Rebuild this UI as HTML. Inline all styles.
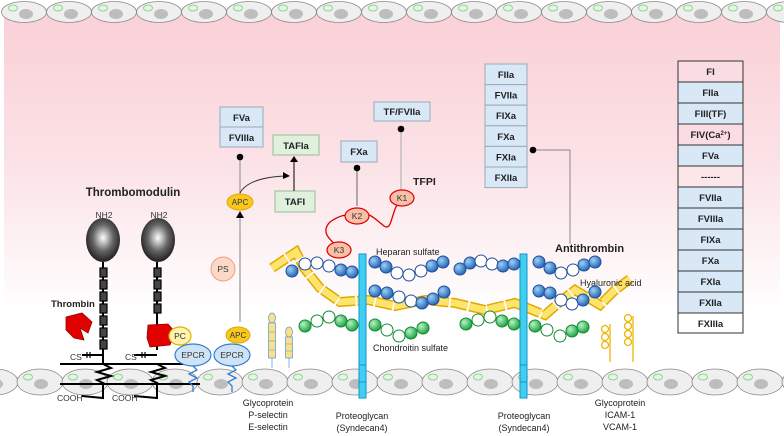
<!DOCTYPE html>
<html><head><meta charset="utf-8"><style>
html,body{margin:0;padding:0;background:#fff}
svg{display:block;font-family:"Liberation Sans",Arial,sans-serif}
.b{font-weight:bold}
</style></head><body>
<svg width="784" height="436" viewBox="0 0 784 436" xmlns="http://www.w3.org/2000/svg">
<defs>
<linearGradient id="bg" x1="0" y1="0" x2="0" y2="1">
<stop offset="0" stop-color="#fad0d7"/><stop offset="0.4" stop-color="#fbe2e6"/><stop offset="0.8" stop-color="#ffffff"/><stop offset="1" stop-color="#ffffff"/>
</linearGradient>
<radialGradient id="ball" cx="0.5" cy="0.45" r="0.6"><stop offset="0" stop-color="#fff"/><stop offset="0.5" stop-color="#666"/><stop offset="1" stop-color="#111"/></radialGradient>
<radialGradient id="bb" cx="0.35" cy="0.35" r="0.7"><stop offset="0" stop-color="#9fd0f5"/><stop offset="1" stop-color="#1f63b5"/></radialGradient>
<radialGradient id="gb" cx="0.35" cy="0.35" r="0.7"><stop offset="0" stop-color="#bdf0c8"/><stop offset="1" stop-color="#15a33d"/></radialGradient>
<g id="cell"><ellipse cx="0" cy="0" rx="22.5" ry="10.5" fill="#efefef" stroke="#8a8a8a" stroke-width="0.8"/><ellipse cx="2" cy="2" rx="7" ry="5" fill="#bdbdbd"/><ellipse cx="-11" cy="-4" rx="4.5" ry="3" fill="#e3f5e3" stroke="#7ccf7c" stroke-width="0.8"/></g>
<g id="cellb"><ellipse cx="0" cy="0" rx="23" ry="13" fill="#efefef" stroke="#8a8a8a" stroke-width="0.8"/><ellipse cx="1" cy="2" rx="7" ry="5" fill="#bdbdbd"/><ellipse cx="-12" cy="-5" rx="4.5" ry="3" fill="#e3f5e3" stroke="#7ccf7c" stroke-width="0.8"/></g>
<g id="B"><circle r="6" fill="url(#bb)" stroke="#1f4fa0" stroke-width="1"/></g>
<g id="W"><circle r="6" fill="#fff" stroke="#1f4fa0" stroke-width="1"/></g>
<g id="G"><circle r="6" fill="url(#gb)" stroke="#128a33" stroke-width="1"/></g>
<g id="GW"><circle r="6" fill="#fff" stroke="#128a33" stroke-width="1"/></g>
</defs>
<rect x="4" y="10" width="776" height="380" fill="url(#bg)"/>
<g>
<use href="#cell" x="24" y="12"/><use href="#cell" x="69" y="12"/><use href="#cell" x="114" y="12"/><use href="#cell" x="159" y="12"/><use href="#cell" x="204" y="12"/><use href="#cell" x="249" y="12"/><use href="#cell" x="294" y="12"/><use href="#cell" x="339" y="12"/><use href="#cell" x="384" y="12"/><use href="#cell" x="429" y="12"/><use href="#cell" x="474" y="12"/><use href="#cell" x="519" y="12"/><use href="#cell" x="564" y="12"/><use href="#cell" x="609" y="12"/><use href="#cell" x="654" y="12"/><use href="#cell" x="699" y="12"/><use href="#cell" x="744" y="12"/><use href="#cell" x="789" y="12"/>
</g>
<g>
<use href="#cellb" x="-5" y="382"/><use href="#cellb" x="40" y="382"/><use href="#cellb" x="85" y="382"/><use href="#cellb" x="130" y="382"/><use href="#cellb" x="175" y="382"/><use href="#cellb" x="220" y="382"/><use href="#cellb" x="265" y="382"/><use href="#cellb" x="310" y="382"/><use href="#cellb" x="355" y="382"/><use href="#cellb" x="400" y="382"/><use href="#cellb" x="445" y="382"/><use href="#cellb" x="490" y="382"/><use href="#cellb" x="535" y="382"/><use href="#cellb" x="580" y="382"/><use href="#cellb" x="625" y="382"/><use href="#cellb" x="670" y="382"/><use href="#cellb" x="715" y="382"/><use href="#cellb" x="760" y="382"/><use href="#cellb" x="805" y="382"/>
</g>

<text x="133" y="196" font-size="11.5" class="b" text-anchor="middle" fill="#222">Thrombomodulin</text>
<text x="104" y="218" font-size="8.5" text-anchor="middle" fill="#333">NH2</text>
<text x="159" y="218" font-size="8.5" text-anchor="middle" fill="#333">NH2</text>
<g stroke="#000" stroke-width="2" fill="none">
<line x1="60" y1="364" x2="200" y2="364"/><line x1="60" y1="384" x2="200" y2="384"/>
<line x1="103" y1="262" x2="103" y2="364"/><line x1="157" y1="262" x2="157" y2="350"/>
<polyline points="103,364 111,368 97,372 111,376 97,380 105,384 103,384 103,398 82,396"/>
<polyline points="157,364 165,368 151,372 165,376 151,380 159,384 157,384 157,398 134,396"/>
<line x1="82" y1="355" x2="103" y2="355"/><line x1="134" y1="355" x2="157" y2="355"/>
</g>
<g stroke="#000" stroke-width="1.2"><line x1="87" y1="352" x2="87" y2="358"/><line x1="90" y1="352" x2="90" y2="358"/><line x1="142" y1="352" x2="142" y2="358"/><line x1="145" y1="352" x2="145" y2="358"/></g>
<text x="70" y="360" font-size="8.5" fill="#333">CS</text><text x="125" y="360" font-size="8.5" fill="#333">CS</text>
<text x="57" y="401" font-size="8.5" fill="#333">COOH</text><text x="112" y="401" font-size="8.5" fill="#333">COOH</text>
<ellipse cx="103" cy="240" rx="17" ry="22" fill="url(#ball)"/><ellipse cx="158" cy="240" rx="17" ry="22" fill="url(#ball)"/>
<g fill="#444" stroke="#000" stroke-width="1.2">
<rect x="100" y="268" width="7" height="9"/><rect x="100" y="280" width="7" height="9"/><rect x="100" y="292" width="7" height="9"/><rect x="100" y="304" width="7" height="9"/><rect x="100" y="316" width="7" height="9"/><rect x="100" y="328" width="7" height="9"/><rect x="100" y="340" width="7" height="9"/>
<rect x="154" y="268" width="7" height="9"/><rect x="154" y="280" width="7" height="9"/><rect x="154" y="292" width="7" height="9"/><rect x="154" y="304" width="7" height="9"/>
</g>
<text x="51" y="307" font-size="9.5" class="b" fill="#222">Thrombin</text>
<path d="M66,317 L82,313 L92,322 L88,333 L80,328 L84,340 L74,338 L66,330 Z" fill="#e10000" stroke="#900" stroke-width="0.8"/>
<path d="M148,325 L168,324 L175,332 L170,345 L150,347 L147,338 Z" fill="#e10000" stroke="#900" stroke-width="0.8"/>
<ellipse cx="180" cy="336" rx="11" ry="9" fill="#fff3b0" stroke="#e0b000" stroke-width="1.2"/><text x="180" y="339" font-size="8.5" text-anchor="middle" fill="#333">PC</text>
<g stroke="#2f7fd0" stroke-width="1.3" fill="none"><polyline points="193,366 197,370 189,374 197,378 189,382 193,386 193,392"/><polyline points="232,366 236,370 228,374 236,378 228,382 232,386 232,392"/></g>
<ellipse cx="193" cy="355" rx="18" ry="11" fill="#cfe3f7" stroke="#2f7fd0" stroke-width="1.2"/><text x="193" y="358" font-size="8.5" text-anchor="middle" fill="#333">EPCR</text>
<ellipse cx="232" cy="355" rx="18" ry="11" fill="#cfe3f7" stroke="#2f7fd0" stroke-width="1.2"/><text x="232" y="358" font-size="8.5" text-anchor="middle" fill="#333">EPCR</text>
<ellipse cx="238" cy="335" rx="12" ry="8" fill="#f9c81c" stroke="#e2a600"/><text x="238" y="338" font-size="8" text-anchor="middle" fill="#333">APC</text>
<circle cx="223" cy="269" r="12" fill="#fbd9c8" stroke="#f0a080"/><text x="223" y="272" font-size="8.5" text-anchor="middle" fill="#333">PS</text>
<line x1="240" y1="322" x2="240" y2="216" stroke="#aaa" stroke-width="1.5"/><path d="M236,218 L240,211 L244,218Z" fill="#000"/>
<line x1="240" y1="195" x2="240" y2="157" stroke="#aaa" stroke-width="1.5"/><circle cx="240" cy="157" r="3.3" fill="#000"/>
<ellipse cx="240" cy="202" rx="13" ry="8" fill="#f9c81c" stroke="#e2a600"/><text x="240" y="205" font-size="8" text-anchor="middle" fill="#333">APC</text>
<path d="M240,193 Q248,178 284,176" stroke="#333" fill="none" stroke-width="1"/><path d="M283,172 L290,176 L283,179Z" fill="#000"/>
<rect x="220" y="107" width="43" height="20" fill="#d8e8f6" stroke="#9ab"/><text x="241.5" y="121" font-size="9.5" class="b" text-anchor="middle" fill="#222">FVa</text>
<rect x="220" y="127" width="43" height="20" fill="#d8e8f6" stroke="#9ab"/><text x="241.5" y="141" font-size="9.5" class="b" text-anchor="middle" fill="#222">FVIIIa</text>
<rect x="273" y="135" width="46" height="20" fill="#dff0dc" stroke="#9b9"/><text x="296" y="149" font-size="9.5" class="b" text-anchor="middle" fill="#222">TAFIa</text>
<rect x="275" y="191" width="40" height="21" fill="#dff0dc" stroke="#9b9"/><text x="295" y="205" font-size="9.5" class="b" text-anchor="middle" fill="#222">TAFI</text>
<line x1="294" y1="191" x2="294" y2="161" stroke="#000"/><path d="M290,162 L294,156 L298,162Z" fill="#000"/>
<rect x="341" y="141" width="36" height="21" fill="#d8e8f6" stroke="#9ab"/><text x="359" y="155" font-size="9.5" class="b" text-anchor="middle" fill="#222">FXa</text>
<line x1="357" y1="168" x2="357" y2="206" stroke="#666"/><circle cx="357" cy="168" r="3.3" fill="#000"/>
<rect x="374" y="102" width="56" height="19" fill="#d8e8f6" stroke="#9ab"/><text x="402" y="115" font-size="9.5" class="b" text-anchor="middle" fill="#222">TF/FVIIa</text>
<line x1="401" y1="129" x2="401" y2="190" stroke="#aaa"/><circle cx="401" cy="129" r="3.3" fill="#000"/>
<text x="413" y="185" font-size="10.5" class="b" fill="#222">TFPI</text>
<path d="M339,248 C330,240 320,232 330,222 C340,215 344,215 357,214 C370,212 374,218 384,226 C393,232 390,210 402,198" stroke="#d00" fill="none" stroke-width="1.3"/>
<ellipse cx="357" cy="216" rx="12" ry="8" fill="#f8c0a8" stroke="#d00" stroke-width="1.2"/><text x="357" y="219" font-size="8.5" text-anchor="middle" fill="#333">K2</text>
<ellipse cx="402" cy="198" rx="12" ry="8" fill="#f8c0a8" stroke="#d00" stroke-width="1.2"/><text x="402" y="201" font-size="8.5" text-anchor="middle" fill="#333">K1</text>
<g fill="#d8e8f6" stroke="#9ab">
<rect x="485" y="64" width="42" height="20.6"/><rect x="485" y="84.6" width="42" height="20.6"/><rect x="485" y="105.2" width="42" height="20.6"/><rect x="485" y="125.8" width="42" height="20.6"/><rect x="485" y="146.4" width="42" height="20.6"/><rect x="485" y="167" width="42" height="20.6"/>
</g>
<g font-size="9.5" class="b" text-anchor="middle" fill="#222">
<text x="506" y="78">FIIa</text><text x="506" y="98.6">FVIIa</text><text x="506" y="119.2">FIXa</text><text x="506" y="139.8">FXa</text><text x="506" y="160.4">FXIa</text><text x="506" y="181">FXIIa</text>
</g>
<polyline points="533,150 570,150 570,244" stroke="#888" fill="none"/><circle cx="533" cy="150" r="3.3" fill="#000"/>
<text x="555" y="252" font-size="11" class="b" fill="#222">Antithrombin</text>
<polyline points="272,268 296,252 304,268 320,288 340,302 368,300 395,306 425,300 455,303 485,310 515,303 545,315 562,300 575,290 600,305 615,290 630,279" fill="none" stroke="#e0a800" stroke-width="10" stroke-dasharray="17 2"/>
<polyline points="272,268 296,252 304,268 320,288 340,302 368,300 395,306 425,300 455,303 485,310 515,303 545,315 562,300 575,290 600,305 615,290 630,279" fill="none" stroke="#fde46a" stroke-width="7" stroke-dasharray="17 2"/>
<text x="580" y="286" font-size="9" fill="#222">Hyaluronic acid</text>
<rect x="359" y="254" width="7" height="144" fill="#3fd0f0" stroke="#1a8fd0"/><line x1="359" y1="365" x2="366" y2="365" stroke="#1a8fd0"/><line x1="359" y1="382" x2="366" y2="382" stroke="#1a8fd0"/>
<rect x="520" y="254" width="7" height="144" fill="#3fd0f0" stroke="#1a8fd0"/><line x1="520" y1="365" x2="527" y2="365" stroke="#1a8fd0"/><line x1="520" y1="382" x2="527" y2="382" stroke="#1a8fd0"/>
<use href="#B" x="292" y="271"/><use href="#W" x="305" y="264"/><use href="#W" x="317" y="263"/><use href="#W" x="329" y="266"/><use href="#B" x="341" y="270"/><use href="#B" x="352" y="272"/>
<use href="#B" x="375" y="262"/><use href="#B" x="386" y="267"/><use href="#W" x="397" y="273"/><use href="#W" x="409" y="275"/><use href="#W" x="421" y="271"/><use href="#B" x="432" y="266"/><use href="#B" x="443" y="262"/>
<use href="#B" x="460" y="269"/><use href="#B" x="470" y="263"/><use href="#W" x="481" y="261"/><use href="#W" x="492" y="264"/><use href="#B" x="503" y="266"/><use href="#B" x="514" y="264"/>
<use href="#B" x="539" y="262"/><use href="#B" x="550" y="268"/><use href="#W" x="561" y="273"/><use href="#W" x="573" y="270"/><use href="#B" x="584" y="265"/><use href="#B" x="595" y="262"/>
<use href="#B" x="375" y="291"/><use href="#B" x="387" y="293"/><use href="#W" x="399" y="297"/><use href="#W" x="411" y="301"/><use href="#B" x="422" y="303"/><use href="#B" x="433" y="299"/><use href="#B" x="444" y="292"/>
<use href="#B" x="539" y="291"/><use href="#B" x="550" y="293"/><use href="#W" x="561" y="300"/><use href="#W" x="572" y="304"/><use href="#B" x="583" y="300"/><use href="#B" x="595" y="292"/>
<text x="376" y="255" font-size="9" fill="#222">Heparan sulfate</text>
<use href="#G" x="305" y="326"/><use href="#GW" x="317" y="321"/><use href="#GW" x="329" y="317"/><use href="#G" x="341" y="321"/><use href="#G" x="352" y="325"/>
<use href="#G" x="375" y="325"/><use href="#GW" x="387" y="330"/><use href="#GW" x="399" y="336"/><use href="#G" x="411" y="333"/><use href="#G" x="423" y="328"/>
<use href="#G" x="466" y="324"/><use href="#GW" x="478" y="320"/><use href="#GW" x="490" y="317"/><use href="#G" x="502" y="321"/><use href="#G" x="514" y="324"/>
<use href="#G" x="535" y="326"/><use href="#GW" x="547" y="330"/><use href="#GW" x="560" y="336"/><use href="#G" x="572" y="331"/><use href="#G" x="583" y="327"/>
<text x="373" y="351" font-size="9" fill="#222">Chondroitin sulfate</text>
<ellipse cx="339" cy="250" rx="12" ry="8" fill="#f8c0a8" stroke="#d00" stroke-width="1.2"/><text x="339" y="253" font-size="8.5" text-anchor="middle" fill="#333">K3</text>
<g fill="#fbe08a" stroke="#6aa0d0" stroke-width="0.8">
<line x1="272" y1="358" x2="272" y2="368" stroke="#6aa0d0"/><line x1="289" y1="358" x2="289" y2="368" stroke="#6aa0d0"/>
<ellipse cx="272" cy="318" rx="3.5" ry="5"/><rect x="268.5" y="323" width="7" height="35"/>
<ellipse cx="289" cy="332" rx="3.5" ry="5"/><rect x="285.5" y="337" width="7" height="21"/>
</g>
<g stroke="#6aa0d0" stroke-width="0.6"><line x1="268.5" y1="332" x2="275.5" y2="332"/><line x1="268.5" y1="341" x2="275.5" y2="341"/><line x1="268.5" y1="350" x2="275.5" y2="350"/><line x1="285.5" y1="344" x2="292.5" y2="344"/><line x1="285.5" y1="351" x2="292.5" y2="351"/></g>
<g font-size="9" fill="#222" text-anchor="middle">
<text x="268" y="406">Glycoprotein</text><text x="268" y="418">P-selectin</text><text x="268" y="430">E-selectin</text>
<text x="362" y="419">Proteoglycan</text><text x="362" y="431">(Syndecan4)</text>
<text x="524" y="419">Proteoglycan</text><text x="524" y="431">(Syndecan4)</text>
<text x="620" y="406">Glycoprotein</text><text x="620" y="418">ICAM-1</text><text x="620" y="430">VCAM-1</text>
</g>
<g fill="none" stroke="#f0b400" stroke-width="1.3">
<line x1="610" y1="324" x2="610" y2="362"/><circle cx="605" cy="329" r="3.5"/><circle cx="605" cy="337" r="3.5"/><circle cx="605" cy="345" r="3.5"/>
<line x1="633" y1="316" x2="633" y2="362"/><circle cx="628" cy="318" r="3.5"/><circle cx="628" cy="326" r="3.5"/><circle cx="628" cy="334" r="3.5"/><circle cx="628" cy="342" r="3.5"/>
</g>
<g stroke="#333" stroke-width="1">
<rect x="678" y="61" width="65" height="21" fill="#f9dde2"/><rect x="678" y="82" width="65" height="21" fill="#d8e8f6"/><rect x="678" y="103" width="65" height="21" fill="#d8e8f6"/><rect x="678" y="124" width="65" height="21" fill="#f9dde2"/><rect x="678" y="145" width="65" height="21" fill="#d8e8f6"/><rect x="678" y="166" width="65" height="21" fill="#fbe6ea"/><rect x="678" y="187" width="65" height="21" fill="#d8e8f6"/><rect x="678" y="208" width="65" height="21" fill="#d8e8f6"/><rect x="678" y="229" width="65" height="21" fill="#d8e8f6"/><rect x="678" y="250" width="65" height="21" fill="#d8e8f6"/><rect x="678" y="271" width="65" height="21" fill="#d8e8f6"/><rect x="678" y="292" width="65" height="21" fill="#d8e8f6"/><rect x="678" y="313" width="65" height="20" fill="#ffffff"/>
</g>
<g font-size="9.5" class="b" text-anchor="middle" fill="#222">
<text x="710.5" y="75">FI</text><text x="710.5" y="96">FIIa</text><text x="710.5" y="117">FIII(TF)</text><text x="710.5" y="138">FIV(Ca<tspan font-size="6" dy="-3">2+</tspan><tspan dy="3">)</tspan></text><text x="710.5" y="159">FVa</text><text x="710.5" y="180">------</text><text x="710.5" y="201">FVIIa</text><text x="710.5" y="222">FVIIIa</text><text x="710.5" y="243">FIXa</text><text x="710.5" y="264">FXa</text><text x="710.5" y="285">FXIa</text><text x="710.5" y="306">FXIIa</text><text x="710.5" y="327">FXIIIa</text>
</g>
</svg>
</body></html>
